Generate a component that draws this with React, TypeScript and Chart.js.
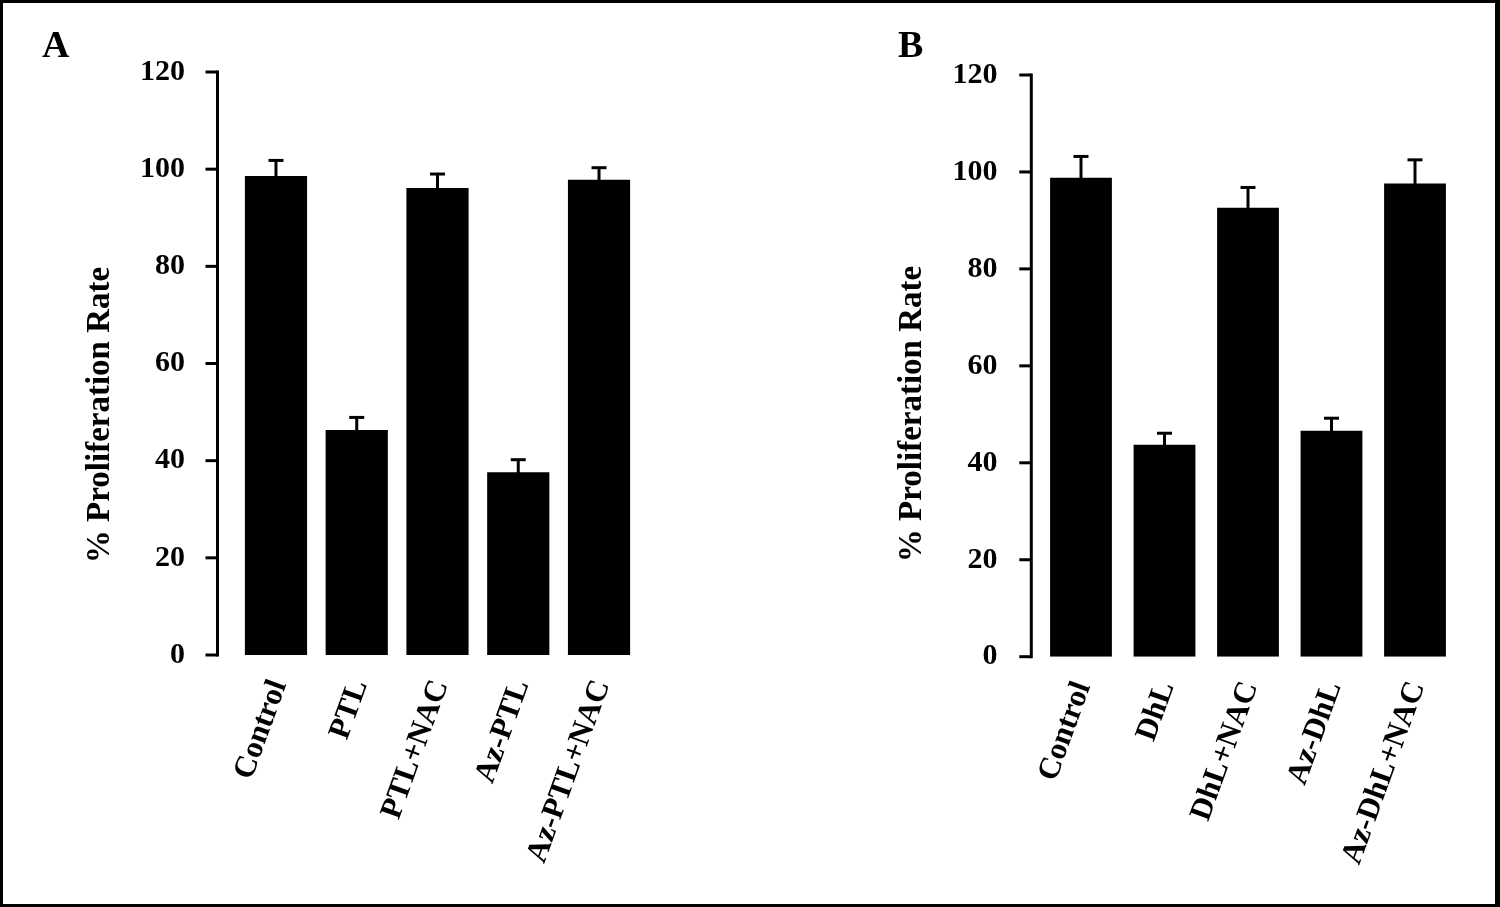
import React, { useEffect, useRef } from "react";
import { Chart, registerables } from "chart.js";

Chart.register(...registerables);

const labelsA = ["Control", "PTL", "PTL+NAC", "Az-PTL", "Az-PTL+NAC"];
const valuesA = [98.6, 46.3, 96.1, 37.6, 97.8];
const errorsA = [3.2, 2.6, 2.9, 2.6, 2.5];

const labelsB = ["Control", "DhL", "DhL+NAC", "Az-DhL", "Az-DhL+NAC"];
const valuesB = [98.8, 43.7, 92.6, 46.6, 97.6];
const errorsB = [4.4, 2.4, 4.2, 2.6, 4.9];

const yTicks = [0, 20, 40, 60, 80, 100, 120];
const yTitle = "% Proliferation Rate";

const FONT = "'Liberation Serif', 'Times New Roman', serif";

type PanelCfg = {
  letter: string;
  letterX: number;
  letterY: number;
  areaLeft: number;
  areaRight: number;
  areaTop: number;
  areaBottom: number;
  axisX: number;
  tickLabelRight: number;
  titleX: number;
  titleY: number;
  barPct: number;
  labelOffset: number;
};

const W = 750;
const H = 907;

const cfgA: PanelCfg = {
  letter: "A",
  letterX: 42,
  letterY: 57,
  areaLeft: 235.6,
  areaRight: 639.4,
  areaTop: 72,
  areaBottom: 655,
  axisX: 217.5,
  tickLabelRight: 193,
  titleX: 100.5,
  titleY: 415,
  barPct: 0.77,
  labelOffset: 3,
};

const cfgB: PanelCfg = {
  letter: "B",
  letterX: 148,
  letterY: 57,
  areaLeft: 289.25,
  areaRight: 706.75,
  areaTop: 75,
  areaBottom: 656.7,
  axisX: 281.3,
  tickLabelRight: 255.6,
  titleX: 162,
  titleY: 414,
  barPct: 0.74,
  labelOffset: 2,
};

function Panel({ cfg, labels, values, errors, left }: { cfg: PanelCfg; labels: string[]; values: number[]; errors: number[]; left: number }) {
  const ref = useRef<HTMLCanvasElement | null>(null);
  useEffect(() => {
    if (!ref.current) return;
    const decor = {
      id: "panelDecor",
      afterDatasetsDraw(chart: any) {
        const ctx = chart.ctx as CanvasRenderingContext2D;
        const y = chart.scales.y;
        const meta = chart.getDatasetMeta(0);
        ctx.save();
        ctx.strokeStyle = "#000";
        ctx.fillStyle = "#000";
        ctx.lineWidth = 3;
        ctx.lineCap = "butt";
        meta.data.forEach((bar: any, i: number) => {
          const v = values[i];
          const top = y.getPixelForValue(v + errors[i]);
          ctx.beginPath();
          ctx.moveTo(bar.x, bar.y + 1);
          ctx.lineTo(bar.x, top);
          ctx.stroke();
          ctx.beginPath();
          ctx.moveTo(bar.x - 7.5, top);
          ctx.lineTo(bar.x + 7.5, top);
          ctx.stroke();
        });
        const y0 = y.getPixelForValue(0);
        const y1 = y.getPixelForValue(120);
        ctx.beginPath();
        ctx.moveTo(cfg.axisX, y0 + 1.5);
        ctx.lineTo(cfg.axisX, y1 - 1.5);
        ctx.stroke();
        yTicks.forEach((t) => {
          const py = y.getPixelForValue(t);
          ctx.beginPath();
          ctx.moveTo(cfg.axisX - 12, py);
          ctx.lineTo(cfg.axisX, py);
          ctx.stroke();
        });
        ctx.save();
        ctx.font = `bold 33px ${FONT}`;
        ctx.textAlign = "center";
        ctx.textBaseline = "middle";
        ctx.translate(cfg.titleX, cfg.titleY);
        ctx.rotate(-Math.PI / 2);
        ctx.fillText(yTitle, 0, 0);
        ctx.restore();
        ctx.font = `bold 38px ${FONT}`;
        ctx.textAlign = "left";
        ctx.textBaseline = "alphabetic";
        ctx.fillText(cfg.letter, cfg.letterX, cfg.letterY);
        ctx.restore();
      },
    };
    const chart = new Chart(ref.current, {
      type: "bar",
      data: {
        labels,
        datasets: [
          {
            data: values,
            backgroundColor: "#000",
            borderWidth: 0,
            barPercentage: cfg.barPct,
            categoryPercentage: 1,
          },
        ],
      },
      options: {
        animation: false,
        responsive: false,
        maintainAspectRatio: false,
        devicePixelRatio: 1,
        layout: {
          padding: { left: 0, top: cfg.areaTop, right: W - cfg.areaRight, bottom: 0 },
        },
        plugins: {
          legend: { display: false },
          tooltip: { enabled: false },
        },
        scales: {
          x: {
            type: "category",
            grid: { display: false },
            border: { display: false },
            ticks: {
              color: "#000",
              font: { family: FONT, size: 31, weight: "bold" },
              minRotation: 70,
              maxRotation: 70,
              autoSkip: false,
              padding: 12,
              labelOffset: cfg.labelOffset,
            },
            afterFit: (s: any) => {
              s.height = H - cfg.areaBottom;
            },
          },
          y: {
            min: 0,
            max: 120,
            grid: { display: false },
            border: { display: false },
            ticks: {
              stepSize: 20,
              color: "#000",
              font: { family: FONT, size: 30, weight: "bold" },
              padding: cfg.areaLeft - cfg.tickLabelRight,
            },
            afterFit: (s: any) => {
              s.width = cfg.areaLeft;
            },
          },
        },
      },
      plugins: [decor],
    } as any);
    return () => chart.destroy();
  }, []);
  return (
    <canvas
      ref={ref}
      width={W}
      height={H}
      style={{ position: "absolute", left, top: 0, width: W, height: H }}
    />
  );
}

export default function App() {
  return (
    <div
      style={{
        position: "fixed",
        left: 0,
        top: 0,
        width: 1500,
        height: 907,
        background: "#fff",
        overflow: "hidden",
      }}
    >
      <Panel cfg={cfgA} labels={labelsA} values={valuesA} errors={errorsA} left={0} />
      <Panel cfg={cfgB} labels={labelsB} values={valuesB} errors={errorsB} left={750} />
      <div
        style={{
          position: "absolute",
          left: 0,
          top: 0,
          width: 1500,
          height: 907,
          boxSizing: "border-box",
          borderStyle: "solid",
          borderColor: "#000",
          borderWidth: "3px 5px 3px 3px",
          pointerEvents: "none",
        }}
      />
    </div>
  );
}
